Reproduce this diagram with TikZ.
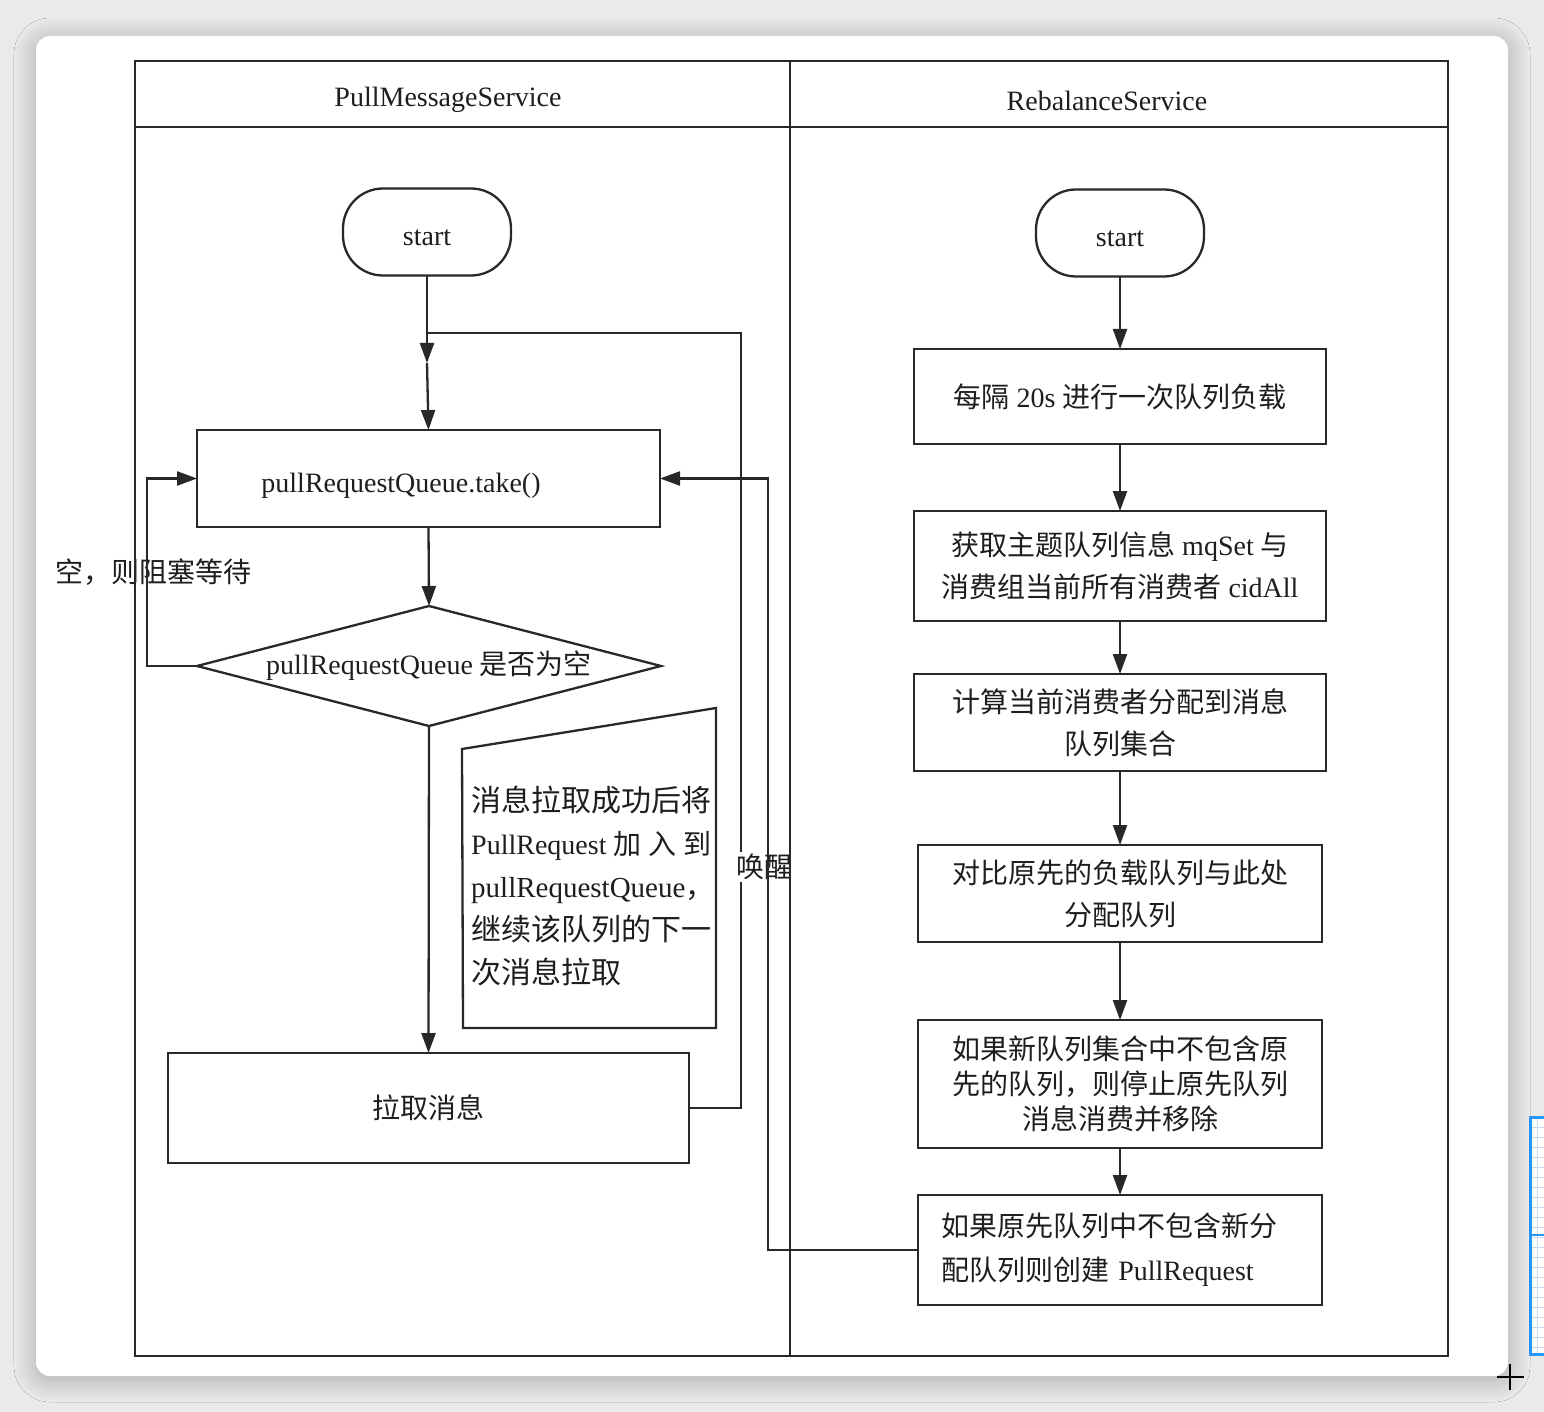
\documentclass[tikz,border=0pt]{standalone}
\usepackage{fontspec}
\setmainfont{Liberation Serif}
\newfontfamily\cjk{Noto Sans CJK SC}
\newcommand\zh[1]{{\cjk #1}}
\newcommand\fs{\fontsize{28}{42}\selectfont}
\usetikzlibrary{shapes.geometric,arrows.meta,shadows.blur}
\definecolor{linec}{RGB}{40,40,40}
\definecolor{textc}{RGB}{30,30,30}
\definecolor{bgc}{RGB}{234,234,234}
\definecolor{bluec}{RGB}{40,150,245}
\definecolor{gridc}{RGB}{200,220,240}
\begin{document}
\begin{tikzpicture}[x=1pt,y=-1pt,
  ln/.style={draw=linec,line width=2.3pt},
  arr/.style={ln,-{Triangle[length=20pt,width=14pt]}},
  txt/.style={inner sep=0pt,text=textc,font=\fs,align=center},
  box/.style={draw=linec,line width=2.3pt,rectangle,inner sep=0pt,outer sep=0pt,align=center,text=textc,font=\fs},
  term/.style={box,rounded corners=40pt,minimum width=168pt,minimum height=87pt,text height=27pt,text depth=0pt},
  dec/.style={draw=linec,line width=2.3pt,diamond,aspect=3.87,inner sep=0pt,outer sep=0pt,minimum width=464pt,minimum height=120pt,text=textc,font=\fs}
]
\useasboundingbox (0,0) rectangle (1544,1412);
\fill[bgc] (0,0) rectangle (1544,1412);
% card
\fill[white,rounded corners=14pt,blur shadow={shadow xshift=0pt,shadow yshift=-4pt,shadow blur radius=22pt,shadow blur steps=16,shadow opacity=28}] (36,36) rectangle (1508,1376);
% blue side object and cursor
\begin{scope}
\clip (0,0) rectangle (1544,1412);
\fill[white] (1530,1117) rectangle (1560,1354);
\foreach \yy in {1127,1137,...,1347} \draw[gridc,line width=0.6pt] (1530,\yy) -- (1560,\yy);
\draw[gridc,line width=0.6pt] (1537,1117) -- (1537,1354);
\draw[bluec,line width=3pt] (1530,1117) rectangle (1560,1354);
\draw[bluec,line width=2pt] (1530,1235) -- (1560,1235);
\end{scope}
\draw[black,line width=2pt] (1497,1377) -- (1524,1377) (1510,1364) -- (1510,1390);

% headers
\node[txt] (h1) at (448,100) {PullMessageService};
\node[txt] (h2) at (1107,101) {RebalanceService};

% left lane
\node[term] (lstart) at (427,232) {start};
\node[box,minimum width=463pt,minimum height=97pt] (take) at (428.5,478.5) {};
\node[txt] (taketxt) at (401,486) {pullRequestQueue.take()};
\node[dec] (dia) at (429,666) {pullRequestQueue \zh{是否为空}};
\node[box,minimum width=521pt,minimum height=110pt] (pull) at (428.5,1108) {\zh{拉取消息}};
\coordinate (n1) at (462,749);
\coordinate (n2) at (716,708);
\coordinate (n3) at (716,1028);
\coordinate (n4) at (463,1028);
\draw[ln] (n1) -- (n2) -- (n3) -- (n4) -- cycle;
\node[anchor=west,align=left,inner sep=0pt,text=textc,font=\fontsize{30}{43}\selectfont] (notetxt) at (471,886)
  {\zh{消息拉取成功后将}\\{\fontsize{28}{43}\selectfont\makebox[240pt][s]{PullRequest \zh{加} \zh{入} \zh{到}}}\\{\fontsize{29}{43}\selectfont pullRequestQueue\zh{，}}\\\zh{继续该队列的下一}\\\zh{次消息拉取}};
\node[txt] (lbl1) at (153.5,572) {\zh{空，则阻塞等待}};

\coordinate (j1) at (427,333);
\coordinate (jarrow) at (427,363);
\draw[arr] (lstart.south) -- (jarrow);
\draw[arr] (jarrow) -- (take.north);
\draw[arr] (take.south) -- (dia.north);
\draw[arr] (dia.south) -- (pull.north);
\draw[arr] (dia.west) -- ++(-50,0) |- (take.west);
\draw[ln] (pull.east) -- ++(52,0) |- (j1);
\node[txt,fill=white,inner sep=2pt] (wake) at (764,867) {\zh{唤醒}};

% right lane
\node[term] (rstart) at (1120,233) {start};
\node[box,minimum width=412pt,minimum height=95pt] (r1) at (1120,396.5) {\zh{每隔} 20s \zh{进行一次队列负载}};
\node[box,minimum width=412pt,minimum height=110pt] (r2) at (1120,566) {\zh{获取主题队列信息} mqSet \zh{与}\\\zh{消费组当前所有消费者} cidAll};
\node[box,minimum width=412pt,minimum height=97pt] (r3) at (1120,722.5) {\zh{计算当前消费者分配到消息}\\\zh{队列集合}};
\node[box,minimum width=404pt,minimum height=97pt] (r4) at (1120,893.5) {\zh{对比原先的负载队列与此处}\\\zh{分配队列}};
\node[box,minimum width=404pt,minimum height=128pt,font=\fontsize{28}{35}\selectfont] (r5) at (1120,1084) {\zh{如果新队列集合中不包含原}\\\zh{先的队列，则停止原先队列}\\\zh{消息消费并移除}};
\node[box,minimum width=404pt,minimum height=110pt,font=\fontsize{28}{44}\selectfont,align=left,text width=358pt,inner xsep=23pt] (r6) at (1120,1250) {\zh{如果原先队列中不包含新分}\\\zh{配队列则创建} PullRequest};

\draw[arr] (rstart.south) -- (r1.north);
\draw[arr] (r1.south) -- (r2.north);
\draw[arr] (r2.south) -- (r3.north);
\draw[arr] (r3.south) -- (r4.north);
\draw[arr] (r4.south) -- (r5.north);
\draw[arr] (r5.south) -- (r6.north);
\draw[arr] (r6.west) -- ++(-150,0) |- (take.east);

% frame
\draw[ln] (135,61) rectangle (1448,1356);
\draw[ln] (135,127) -- (1448,127);
\draw[ln] (790,61) -- (790,1356);
\end{tikzpicture}
\end{document}
